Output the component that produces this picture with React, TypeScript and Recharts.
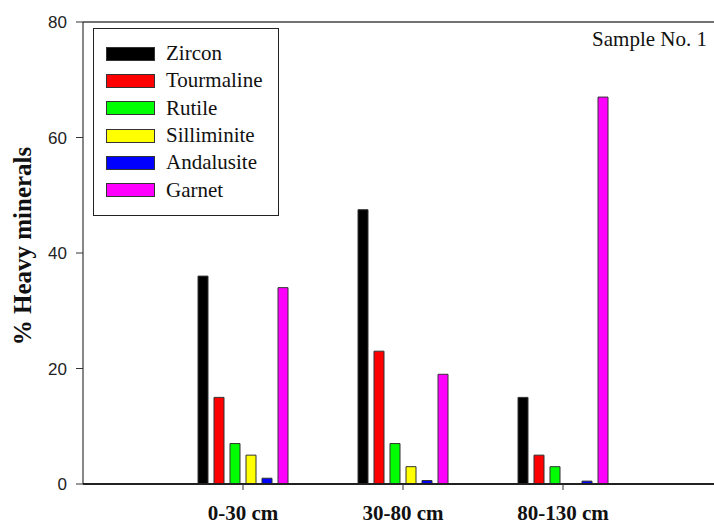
import { BarChart, Bar, XAxis, YAxis, Legend, ReferenceLine } from 'recharts';

// Heavy mineral percentages for Sample No. 1, by depth interval
const categories = ['0-30 cm', '30-80 cm', '80-130 cm'];
const zircon = [36, 47.5, 15];
const tourmaline = [15, 23, 5];
const rutile = [7, 7, 3];
const silliminite = [5, 3, 0];
const andalusite = [1, 0.6, 0.5];
const garnet = [34, 19, 67];
const yTicks = [0, 20, 40, 60, 80];

const series = [
  { key: 'zircon', name: 'Zircon', color: '#000000', values: zircon },
  { key: 'tourmaline', name: 'Tourmaline', color: '#ff0000', values: tourmaline },
  { key: 'rutile', name: 'Rutile', color: '#00ff00', values: rutile },
  { key: 'silliminite', name: 'Silliminite', color: '#ffff00', values: silliminite },
  { key: 'andalusite', name: 'Andalusite', color: '#0000ff', values: andalusite },
  { key: 'garnet', name: 'Garnet', color: '#ff00ff', values: garnet },
];

const data = categories.map((category, i) => {
  const row: Record<string, string | number> = { category };
  series.forEach((s) => {
    row[s.key] = s.values[i];
  });
  return row;
});

const serif = '"Liberation Serif", "Times New Roman", serif';

// legend keeps the series order (recharts would sort it by name)
const LegendBox = () => (
  <div
    style={{
      width: 184,
      height: 175,
      border: '1px solid #222',
      background: '#fff',
      boxSizing: 'content-box',
      paddingTop: 11,
      textAlign: 'left',
    }}
  >
    {series.map((s) => (
      <div key={s.key} style={{ display: 'flex', alignItems: 'center', height: 27.3 }}>
        <span
          style={{
            display: 'inline-block',
            width: 47,
            height: 12,
            marginLeft: 12,
            marginRight: 11,
            background: s.color,
            border: '1px solid #333',
          }}
        />
        <span style={{ fontFamily: serif, fontSize: 21, lineHeight: '21px', color: '#111' }}>{s.name}</span>
      </div>
    ))}
  </div>
);

const YLabel = () => (
  <text
    x={22}
    y={246}
    transform="rotate(-90 22 246)"
    textAnchor="middle"
    dominantBaseline="central"
    fontFamily={serif}
    fontWeight="bold"
    fontSize={25}
    fill="#111"
  >
    % Heavy minerals
  </text>
);

export default function App() {
  return (
    <div style={{ position: 'absolute', left: 0, top: 0, width: 714, height: 525, background: '#fff' }}>
      <BarChart
        width={714}
        height={525}
        data={data}
        margin={{ top: 22, right: 0, bottom: 0, left: 0 }}
        barSize={10}
        barGap={6}
      >
        <XAxis
          dataKey="category"
          padding={{ left: 80, right: 71 }}
          height={41}
          tickSize={6}
          tickMargin={15}
          axisLine={{ stroke: '#222', strokeWidth: 2 }}
          tickLine={{ stroke: '#333' }}
          tick={{ fontFamily: serif, fontWeight: 'bold', fontSize: 21, fill: '#111' }}
        />
        <YAxis
          width={83}
          domain={[0, 80]}
          ticks={yTicks}
          tickSize={7}
          tickMargin={9}
          axisLine={{ stroke: '#111' }}
          tickLine={{ stroke: '#333' }}
          tick={{ fontFamily: '"Liberation Sans", Arial, sans-serif', fontSize: 17, fill: '#222' }}
          label={{ content: YLabel }}
        />
        <ReferenceLine y={80} stroke="#444" strokeWidth={1.5} />
        {series.map((s) => (
          <Bar
            key={s.key}
            dataKey={s.key}
            name={s.name}
            fill={s.color}
            stroke="#333"
            strokeWidth={1}
            isAnimationActive={false}
          />
        ))}
        <Legend
          layout="vertical"
          align="center"
          verticalAlign="middle"
          content={LegendBox}
          wrapperStyle={{ position: 'absolute', left: 93, top: 28, width: 186, height: 188 }}
        />
      </BarChart>
      <div
        style={{
          position: 'absolute',
          right: 7,
          top: 29,
          fontFamily: serif,
          fontSize: 21,
          lineHeight: '21px',
          color: '#111',
          whiteSpace: 'nowrap',
        }}
      >
        Sample No. 1
      </div>
    </div>
  );
}
